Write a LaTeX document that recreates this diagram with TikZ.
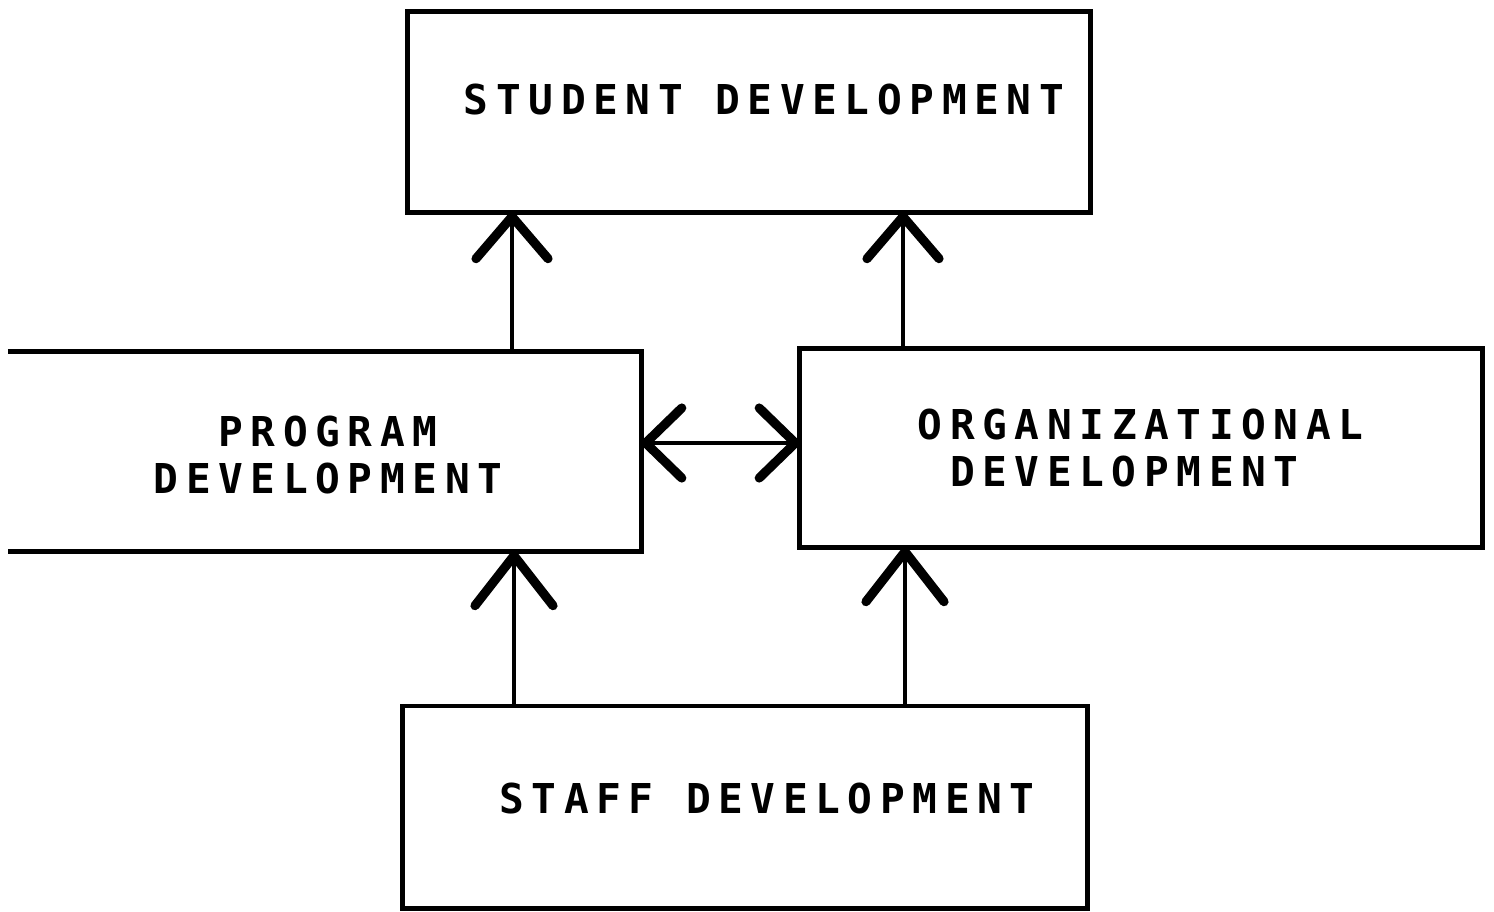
\documentclass[tikz,border=0pt]{standalone}
\usepackage{fontspec}
\usetikzlibrary{arrows.meta}
\newfontfamily\typefont[LetterSpace=18.5]{DejaVu Sans Mono Bold}
\tikzset{
  box/.style={draw, line width=1.4pt, inner sep=0pt, outer sep=0pt},
  openbox/.style={inner sep=0pt, outer sep=0pt},
  label/.style={inner sep=0pt, font=\typefont\fontsize{11.7pt}{13.4pt}\selectfont},
  barb/.style={line width=1.2pt, -{Straight Barb[length=0.42cm, width=0.72cm, line width=2.6pt, round]}},
  barbbig/.style={line width=1.2pt, -{Straight Barb[length=0.5cm, width=0.78cm, line width=2.6pt, round]}},
  both/.style={line width=1.2pt, {Straight Barb[length=0.36cm, width=0.7cm, line width=2.6pt, round]}-{Straight Barb[length=0.36cm, width=0.7cm, line width=2.6pt, round]}}
}
\begin{document}
\begin{tikzpicture}[x=0.01cm,y=-0.01cm]
\useasboundingbox[fill=white] (0,0) rectangle (1494,911);
% boxes
\node[box, minimum width=6.82cm, minimum height=2cm] (stud) at (749,112) {};
\node[openbox, minimum width=6.33cm, minimum height=1.99cm] (prog) at (324.5,451.5) {};
\draw[line width=1.4pt] (prog.north west) -- (prog.north east) -- (prog.south east) -- (prog.south west);
\node[box, minimum width=6.82cm, minimum height=1.98cm] (org) at (1141,448) {};
\node[box, minimum width=6.84cm, minimum height=2.02cm] (staff) at (745,807) {};
% labels
\node[label] (tstud) at (764,100) {STUDENT DEVELOPMENT};
\node[label, align=center] (tprog) at (328,455) {PROGRAM\\DEVELOPMENT};
\node[label, align=left, anchor=west] (torg) at (917,448) {ORGANIZATIONAL\\\hspace*{9.2pt}DEVELOPMENT};
\node[label] (tstaff) at (767,799) {STAFF DEVELOPMENT};
% connectors
\draw[barb] (prog.north -| 512,0) -- (stud.south -| 512,0);
\draw[barb] (org.north -| 903,0) -- (stud.south -| 903,0);
\draw[barbbig] (staff.north -| 514,0) -- (prog.south -| 514,0);
\draw[barbbig] (staff.north -| 905,0) -- (org.south -| 905,0);
\draw[both] (prog.east |- 0,443) -- (org.west |- 0,443);
\end{tikzpicture}
\end{document}
